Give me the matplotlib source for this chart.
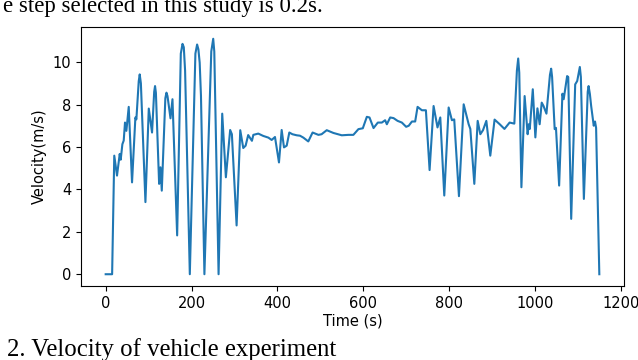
import matplotlib
matplotlib.use('Agg')
import matplotlib.pyplot as plt

# velocity trace (time in s, velocity in m/s)
time_s = [0, 15, 20, 26.4, 32.7, 35, 38.9, 42, 45, 48.2, 53.7, 61.4, 69.2, 71.5, 77, 79.3,
          82, 92.6, 100.4, 108, 113, 115, 117, 124.5, 127.6, 130.7, 139, 141.6, 144, 151,
          155.6, 166.5, 175, 179, 182, 185, 196, 209, 213, 216, 219, 222, 230, 246, 250.5,
          253, 263, 271.5, 280, 290, 294, 305, 313.5, 320.5, 326,
          332, 340.7, 344, 355.5, 367, 379, 386.7, 394.4, 403.7, 410, 415.4, 421.7,
          427.8, 435, 445, 452.7, 460.5, 472, 482, 495.6, 503, 515, 530.5, 550, 565.5,
          577, 588.8, 599, 608.4, 614.6, 624, 634, 643.4, 651, 655, 662.8, 670.6, 680,
          690, 700, 706, 713.5, 721, 726.6, 736.7, 746, 754.6, 763.9, 773, 779.5, 788.8,
          799, 806.6, 812, 823, 834, 845.6, 849.5, 858.8, 866.6, 872.8, 879, 886.8, 896,
          906, 918, 929, 941, 952, 958, 961, 963.5, 968.5, 976, 983, 985.6, 988, 995, 1001,
          1005.8, 1011, 1015.8, 1020, 1026.8, 1035, 1037.8, 1040, 1046, 1049, 1056.4, 1064,
          1067, 1075, 1077.6, 1084.5, 1093.8, 1098.5, 1102, 1104.6, 1107, 1114, 1123, 1125,
          1128, 1131, 1137, 1140, 1142.5, 1150]
velocity = [0, 0, 5.59, 4.65, 5.67, 5.4, 6.13, 6.3, 7.15, 6.76, 7.89, 4.33, 7.39, 7.3, 9.1, 9.42,
            9.0, 3.4, 7.81, 6.68, 8.6, 8.87, 8.55, 4.26, 5.04, 3.94, 8.3, 8.56, 8.4, 7.35,
            8.25, 1.83, 10.4, 10.86, 10.7, 9.6, 0, 10.4, 10.83, 10.6, 9.97, 8.4, 0, 10.5, 11.1,
            10.5, 0, 7.57, 4.57, 6.8, 6.6, 2.3, 6.79, 5.95, 6.06,
            6.56, 6.29, 6.57, 6.63, 6.52, 6.44, 6.33, 6.47, 5.27, 6.8, 5.98, 6.06,
            6.68, 6.6, 6.55, 6.53, 6.44, 6.26, 6.68, 6.57, 6.6, 6.79, 6.66, 6.55, 6.57,
            6.57, 6.84, 6.88, 7.42, 7.39, 6.89, 7.15, 7.15, 7.26, 7.07, 7.39, 7.36, 7.23,
            7.15, 6.95, 7.0, 7.2, 7.2, 7.89, 7.73, 7.73, 4.91, 7.93, 6.92, 7.39, 3.71,
            7.86, 7.26, 7.3, 3.68, 8.01, 7.07, 6.85, 4.26, 7.23, 6.6, 6.79, 7.23, 5.59,
            7.29, 7.07, 6.85, 7.15, 7.1, 9.6, 10.17, 9.5, 4.1, 8.4, 6.6, 7.07, 6.85, 8.72, 6.45,
            7.82, 7.07, 8.09, 7.93, 7.57, 9.4, 9.69, 9.3, 6.84, 6.9, 4.18, 8.51,
            8.25, 9.34, 9.3, 2.61, 8.95, 9.11, 9.5, 9.77, 9.3, 3.55, 8.6, 8.87,
            8.5, 7.93, 7.0, 7.2, 6.9, 0]

top_text = 'e step selected in this study is 0.2s.'
caption = '2. Velocity of vehicle experiment'

fig = plt.figure(figsize=(6.38, 3.6), dpi=100)
ax = fig.add_axes([81/638, 1 - 286/360, (624 - 81)/638, (286 - 27)/360])

ax.plot(time_s, velocity, color='#1f77b4', linewidth=1.5)
ax.set_yticks([0, 2, 4, 6, 8, 10])
ax.set_xticks([0, 200, 400, 600, 800, 1000, 1200])
ax.tick_params(labelsize=10.5)
ax.set_xlabel('Time (s)', fontsize=10.5, labelpad=2)
ax.set_ylabel('Velocity(m/s)', fontsize=10.5)

fig.text(3/638, 1 - 11.7/360, top_text, family='Liberation Serif', fontsize=16.4,
         va='baseline', ha='left')
fig.text(7/638, 4/360, caption, family='Liberation Serif', fontsize=17.8,
         va='baseline', ha='left')

fig.savefig('out.png', dpi=100)
